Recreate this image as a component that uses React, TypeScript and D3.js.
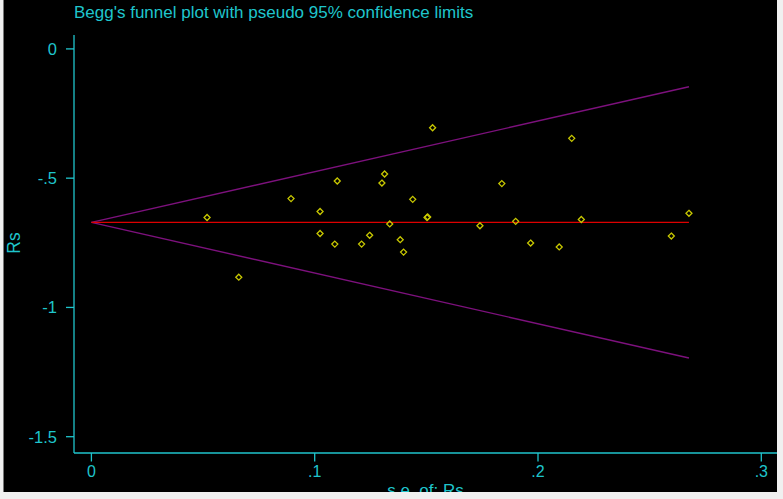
import React from 'react'
import * as d3 from 'd3'

// standard errors (x) and Rs estimates (y)
const seValues = [
    0.0518, 0.066, 0.0894, 0.1024, 0.1024, 0.109, 0.1101, 0.121, 0.1246,
    0.1301, 0.1313, 0.1336, 0.1383, 0.1398, 0.1439, 0.1503, 0.1506, 0.1528,
    0.174, 0.1838, 0.19, 0.1967, 0.2095, 0.2151, 0.2194, 0.2597, 0.2676,
]
const rsValues = [
    -0.652, -0.883, -0.579, -0.629, -0.714, -0.755, -0.511, -0.755, -0.721,
    -0.519, -0.484, -0.677, -0.738, -0.786, -0.582, -0.652, -0.65, -0.305,
    -0.684, -0.521, -0.667, -0.751, -0.766, -0.346, -0.66, -0.724, -0.636,
]
const pooled = -0.671

const xTicks = [0, 0.1, 0.2, 0.3]
const xTickLabels = ['0', '.1', '.2', '.3']
const yTicks = [0, -0.5, -1, -1.5]
const yTickLabels = ['0', '-.5', '-1', '-1.5']

const title = "Begg's funnel plot with pseudo 95% confidence limits"
const xTitle = 's.e. of: Rs'
const yTitle = 'Rs'

const App = () => {
    const width = 783
    const height = 499
    const cyan = '#1fc5cc'
    const font = '"Liberation Sans", Arial, sans-serif'

    const x = d3.scaleLinear().domain([0, 0.3]).range([91.4, 761.3])
    const y = d3.scaleLinear().domain([-1.5, 0]).range([436.7, 48.9])

    const axisLeft = 74
    const axisBottom = 453

    const maxSe = d3.max(seValues) as number
    const seLine = [0, maxSe]
    const line = d3
          .line<number>()
          .x(d => x(d))
    const upper = line.y(d => y(pooled + 1.96 * d))(seLine)
    const lower = line.y(d => y(pooled - 1.96 * d))(seLine)
    const mid = line.y(() => y(pooled))(seLine)

    const diamond = (cx: number, cy: number, r: number) =>
        `M${cx},${cy - r}L${cx + r},${cy}L${cx},${cy + r}L${cx - r},${cy}Z`

    return (
        <svg
            width={width}
            height={height}
            style={{ position: 'fixed', top: 0, left: 0 }}
        >
            <rect width={width} height={height} fill="#f0f0f0" />
            <rect x={3.5} y={0} width={773.5} height={492} fill="#000" />

            <text x={74} y={17.5} fill={cyan} fontSize={17} fontFamily={font}>
                {title}
            </text>

            {/* funnel */}
            <path d={upper || ''} stroke="#7d117d" strokeWidth={1.4} fill="none" />
            <path d={lower || ''} stroke="#7d117d" strokeWidth={1.4} fill="none" />
            <path d={mid || ''} stroke="#dd0000" strokeWidth={1.4} fill="none" />

            {seValues.map((se, i) => (
                <path
                    key={`p${i}`}
                    d={diamond(x(se), y(rsValues[i]), 3)}
                    stroke="#c8c800"
                    strokeWidth={1.3}
                    fill="none"
                />
            ))}

            {/* y axis */}
            <line x1={axisLeft} x2={axisLeft} y1={35} y2={axisBottom} stroke={cyan} strokeWidth={1.3} />
            {yTicks.map((t, i) => (
                <g key={`y${t}`}>
                    <line x1={axisLeft - 8} x2={axisLeft} y1={y(t)} y2={y(t)} stroke={cyan} strokeWidth={1.3} />
                    <text
                        x={57}
                        y={y(t)}
                        dy="0.36em"
                        textAnchor="end"
                        fill={cyan}
                        fontSize={16.5}
                        fontFamily={font}
                    >
                        {yTickLabels[i]}
                    </text>
                </g>
            ))}
            <text
                transform={`translate(20,${243}) rotate(-90)`}
                textAnchor="middle"
                fill={cyan}
                fontSize={17.5}
                fontFamily={font}
            >
                {yTitle}
            </text>

            {/* x axis */}
            <line x1={axisLeft} x2={777} y1={axisBottom} y2={axisBottom} stroke={cyan} strokeWidth={1.3} />
            {xTicks.map((t, i) => (
                <g key={`x${t}`}>
                    <line x1={x(t)} x2={x(t)} y1={axisBottom} y2={axisBottom + 8.5} stroke={cyan} strokeWidth={1.3} />
                    <text
                        x={x(t)}
                        y={476.5}
                        textAnchor="middle"
                        fill={cyan}
                        fontSize={16}
                        fontFamily={font}
                    >
                        {xTickLabels[i]}
                    </text>
                </g>
            ))}
            <text x={425.5} y={496} textAnchor="middle" fill={cyan} fontSize={17} fontFamily={font}>
                {xTitle}
            </text>

            {/* frame edges drawn over the clipped axis title */}
            <rect x={0} y={492} width={width} height={7} fill="#f0f0f0" />
            <rect x={777} y={0} width={6} height={height} fill="#f0f0f0" />
        </svg>
    )
}

export default App
